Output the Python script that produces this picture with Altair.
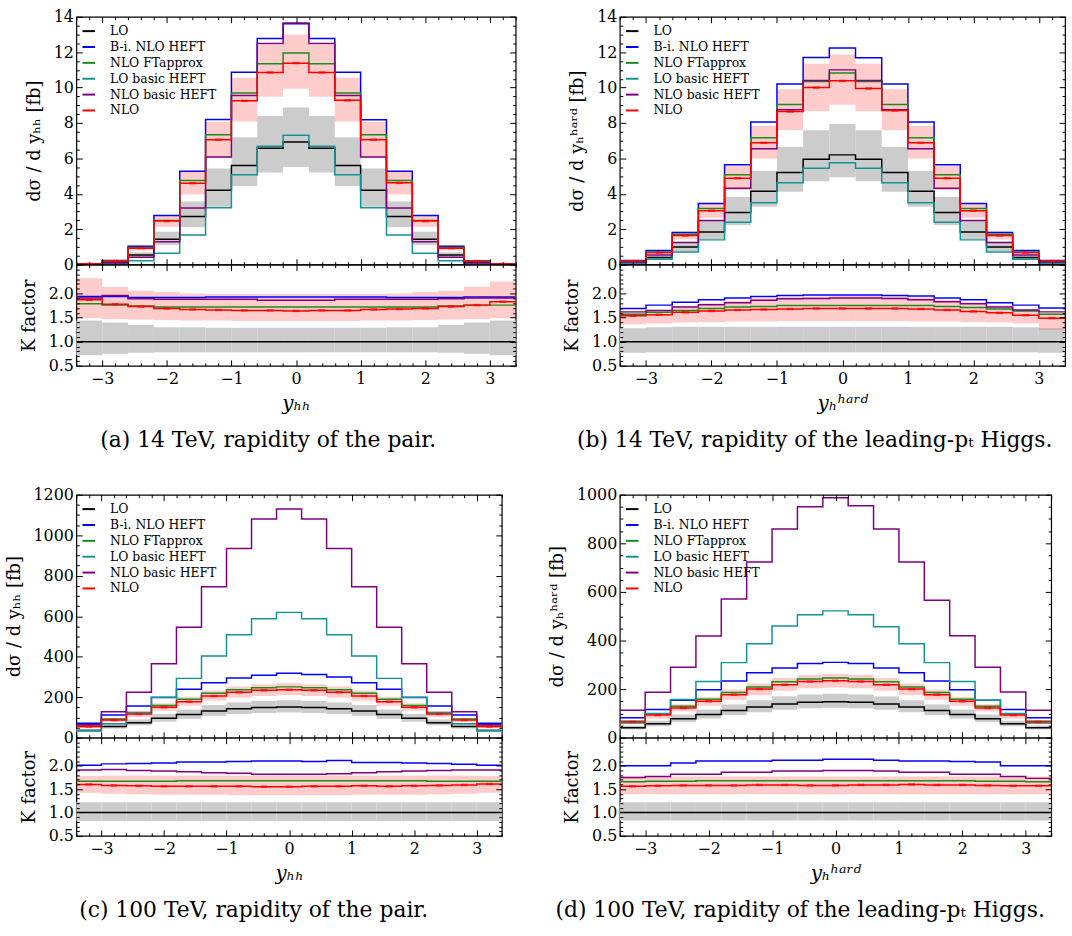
import altair as alt
import pandas as pd

FONT = "DejaVu Serif"

EDGES = [-3.4, -3.0, -2.6, -2.2, -1.8, -1.4, -1.0, -0.6, -0.2, 0.2, 0.6, 1.0, 1.4, 1.8, 2.2, 2.6, 3.0, 3.4]
CENTERS = [-3.2, -2.8, -2.4, -2.0, -1.6, -1.2, -0.8, -0.4, 0.0, 0.4, 0.8, 1.2, 1.6, 2.0, 2.4, 2.8, 3.2]
SERIES = ["LO", "B-i. NLO HEFT", "NLO FTapprox", "LO basic HEFT", "NLO basic HEFT", "NLO"]
COLORS = ["#000000", "#0000ff", "#1a8c1a", "#139393", "#800080", "#ff0000"]
RATIO_SERIES = ["LO", "B-i. NLO HEFT", "NLO FTapprox", "NLO basic HEFT", "NLO"]
RATIO_COLORS = ["#000000", "#0000ff", "#1a8c1a", "#800080", "#ff0000"]

R_ONE = [1.0, 1.0, 1.0, 1.0, 1.0, 1.0, 1.0, 1.0, 1.0, 1.0, 1.0, 1.0, 1.0, 1.0, 1.0, 1.0, 1.0]

# ---------------- (a) 14 TeV, y_hh ----------------
A_LO = [0.02, 0.12, 0.55, 1.43, 2.72, 4.20, 5.60, 6.58, 6.93, 6.58, 5.60, 4.20, 2.72, 1.43, 0.55, 0.12, 0.02]
A_BI = [0.05, 0.24, 1.04, 2.77, 5.28, 8.20, 10.86, 12.77, 13.60, 12.77, 10.86, 8.18, 5.28, 2.77, 1.04, 0.22, 0.05]
A_FT = [0.04, 0.21, 0.97, 2.50, 4.75, 7.33, 9.70, 11.35, 11.95, 11.35, 9.70, 7.33, 4.75, 2.50, 0.97, 0.21, 0.04]
A_LOB = [0.00, 0.03, 0.22, 0.65, 1.67, 3.22, 5.08, 6.69, 7.31, 6.69, 5.08, 3.22, 1.67, 0.65, 0.22, 0.03, 0.00]
A_NLOB = [0.03, 0.10, 0.42, 1.30, 3.20, 6.08, 9.55, 12.49, 13.65, 12.49, 9.55, 6.08, 3.20, 1.30, 0.42, 0.10, 0.03]
A_NLO = [0.04, 0.20, 0.93, 2.46, 4.60, 7.06, 9.25, 10.85, 11.38, 10.85, 9.28, 7.06, 4.62, 2.46, 0.93, 0.20, 0.04]
A_GHI = [0.03, 0.15, 0.70, 1.86, 3.57, 5.43, 7.20, 8.40, 8.87, 8.40, 7.20, 5.43, 3.57, 1.86, 0.70, 0.15, 0.03]
A_GLO = [0.015, 0.09, 0.42, 1.12, 2.12, 3.27, 4.44, 5.20, 5.52, 5.20, 4.44, 3.27, 2.12, 1.12, 0.42, 0.09, 0.015]
A_PHI = [0.05, 0.26, 1.08, 2.80, 5.25, 8.05, 10.56, 12.40, 13.00, 12.40, 10.56, 8.05, 5.25, 2.80, 1.08, 0.26, 0.05]
A_PLO = [0.035, 0.17, 0.80, 2.14, 3.96, 6.02, 8.09, 9.48, 9.94, 9.48, 8.09, 6.02, 3.96, 2.14, 0.80, 0.17, 0.035]
RA_BI = [1.94, 1.94, 1.92, 1.92, 1.92, 1.93, 1.93, 1.93, 1.93, 1.93, 1.93, 1.93, 1.92, 1.92, 1.92, 1.93, 1.93]
RA_FT = [1.79, 1.76, 1.74, 1.72, 1.72, 1.72, 1.72, 1.72, 1.72, 1.72, 1.72, 1.72, 1.72, 1.72, 1.74, 1.76, 1.76]
RA_NLOB = [1.91, 1.96, 1.89, 1.88, 1.88, 1.88, 1.88, 1.86, 1.86, 1.86, 1.88, 1.88, 1.88, 1.88, 1.89, 1.91, 1.91]
RA_NLO = [1.87, 1.78, 1.73, 1.69, 1.67, 1.66, 1.65, 1.65, 1.64, 1.65, 1.65, 1.67, 1.68, 1.69, 1.73, 1.76, 1.83]
RA_GHI = [1.44, 1.40, 1.35, 1.30, 1.30, 1.29, 1.29, 1.29, 1.29, 1.29, 1.29, 1.29, 1.30, 1.30, 1.35, 1.40, 1.44]
RA_GLO = [0.72, 0.75, 0.77, 0.78, 0.78, 0.78, 0.78, 0.78, 0.78, 0.78, 0.78, 0.78, 0.78, 0.78, 0.77, 0.75, 0.72]
RA_PHI = [2.32, 2.14, 2.06, 2.03, 2.00, 1.99, 1.99, 1.99, 1.99, 1.99, 1.99, 1.99, 2.00, 2.03, 2.06, 2.14, 2.25]
RA_PLO = [1.49, 1.47, 1.46, 1.45, 1.44, 1.44, 1.43, 1.43, 1.43, 1.43, 1.43, 1.44, 1.44, 1.45, 1.46, 1.47, 1.49]

# ---------------- (b) 14 TeV, y_h^hard ----------------
B_LO = [0.10, 0.40, 1.00, 1.85, 2.95, 4.15, 5.20, 5.95, 6.20, 5.95, 5.20, 4.15, 2.95, 1.85, 1.00, 0.40, 0.10]
B_BI = [0.24, 0.80, 1.82, 3.45, 5.64, 8.05, 10.20, 11.70, 12.24, 11.68, 10.20, 8.05, 5.64, 3.45, 1.82, 0.80, 0.24]
B_FT = [0.20, 0.72, 1.72, 3.17, 5.08, 7.17, 9.05, 10.35, 10.83, 10.35, 9.05, 7.17, 5.08, 3.17, 1.72, 0.72, 0.20]
B_LOB = [0.08, 0.30, 0.72, 1.40, 2.40, 3.50, 4.62, 5.45, 5.75, 5.45, 4.62, 3.50, 2.40, 1.40, 0.72, 0.30, 0.08]
B_NLOB = [0.15, 0.55, 1.25, 2.50, 4.32, 6.55, 8.75, 10.40, 11.00, 10.40, 8.75, 6.55, 4.32, 2.50, 1.25, 0.55, 0.15]
B_NLO = [0.20, 0.68, 1.65, 3.05, 4.88, 6.88, 8.65, 10.00, 10.38, 9.95, 8.70, 6.88, 4.88, 3.05, 1.65, 0.68, 0.20]
B_GHI = [0.13, 0.52, 1.30, 2.50, 3.82, 5.29, 6.64, 7.59, 7.94, 7.59, 6.64, 5.29, 3.82, 2.50, 1.30, 0.52, 0.13]
B_GLO = [0.08, 0.30, 0.75, 1.45, 2.23, 3.27, 4.12, 4.71, 4.93, 4.71, 4.12, 3.27, 2.23, 1.45, 0.75, 0.30, 0.08]
B_PHI = [0.23, 0.78, 1.88, 3.48, 5.57, 7.83, 9.90, 11.35, 11.87, 11.35, 9.90, 7.83, 5.57, 3.48, 1.88, 0.78, 0.23]
B_PLO = [0.17, 0.58, 1.43, 2.65, 4.20, 5.99, 7.59, 8.66, 9.03, 8.66, 7.59, 5.99, 4.20, 2.65, 1.43, 0.58, 0.17]
RB_BI = [1.69, 1.76, 1.82, 1.87, 1.91, 1.94, 1.96, 1.97, 1.97, 1.97, 1.96, 1.95, 1.91, 1.87, 1.81, 1.76, 1.70]
RB_FT = [1.57, 1.61, 1.65, 1.69, 1.72, 1.73, 1.75, 1.75, 1.75, 1.75, 1.75, 1.75, 1.73, 1.71, 1.68, 1.64, 1.57]
RB_NLOB = [1.62, 1.65, 1.72, 1.77, 1.81, 1.86, 1.89, 1.90, 1.91, 1.91, 1.90, 1.87, 1.83, 1.79, 1.72, 1.66, 1.62]
RB_NLO = [1.54, 1.56, 1.61, 1.64, 1.66, 1.67, 1.68, 1.69, 1.69, 1.69, 1.69, 1.68, 1.66, 1.63, 1.60, 1.55, 1.49]
RB_GHI = [1.28, 1.30, 1.31, 1.31, 1.31, 1.31, 1.31, 1.31, 1.31, 1.31, 1.31, 1.31, 1.31, 1.31, 1.31, 1.30, 1.28]
RB_GLO = [0.77, 0.78, 0.78, 0.78, 0.78, 0.78, 0.78, 0.78, 0.78, 0.78, 0.78, 0.78, 0.78, 0.78, 0.78, 0.78, 0.77]
RB_PHI = [1.62, 1.66, 1.74, 1.80, 1.85, 1.90, 1.93, 1.94, 1.95, 1.95, 1.94, 1.92, 1.87, 1.82, 1.75, 1.67, 1.60]
RB_PLO = [1.36, 1.38, 1.40, 1.41, 1.42, 1.42, 1.43, 1.43, 1.43, 1.43, 1.43, 1.42, 1.42, 1.41, 1.40, 1.38, 1.25]

# ---------------- (c) 100 TeV, y_hh ----------------
C_LO = [35, 55, 74, 96, 114, 132, 143, 149, 152, 149, 143, 132, 114, 96, 74, 55, 35]
C_BI = [71, 112, 157, 198, 239, 271, 295, 308, 318, 312, 300, 271, 239, 198, 157, 112, 71]
C_FT = [58, 92, 123, 159, 190, 219, 237, 247, 251, 247, 237, 219, 190, 159, 123, 92, 58]
C_LOB = [34, 69, 124, 200, 293, 404, 508, 588, 619, 588, 508, 404, 293, 200, 124, 69, 34]
C_NLOB = [64, 128, 225, 365, 545, 745, 935, 1080, 1130, 1080, 935, 745, 545, 365, 225, 128, 64]
C_NLO = [55, 87, 117, 150, 178, 206, 224, 234, 237, 234, 224, 206, 178, 150, 117, 87, 55]
C_GHI = [43, 67, 90, 117, 139, 161, 174, 182, 185, 182, 174, 161, 139, 117, 90, 67, 43]
C_GLO = [29, 45, 61, 79, 93, 108, 117, 122, 125, 122, 117, 108, 93, 79, 61, 45, 29]
C_PHI = [62, 97, 131, 170, 202, 233, 253, 264, 269, 264, 253, 233, 202, 170, 131, 97, 62]
C_PLO = [48, 76, 102, 133, 158, 183, 198, 206, 210, 206, 198, 183, 158, 133, 102, 76, 48]
RC_BI = [2.01, 2.04, 2.05, 2.06, 2.08, 2.08, 2.09, 2.10, 2.10, 2.09, 2.11, 2.07, 2.07, 2.06, 2.05, 2.03, 2.01]
RC_FT = [1.67, 1.67, 1.67, 1.67, 1.68, 1.68, 1.68, 1.68, 1.68, 1.68, 1.68, 1.68, 1.68, 1.68, 1.67, 1.67, 1.67]
RC_NLOB = [1.91, 1.92, 1.90, 1.89, 1.87, 1.85, 1.84, 1.82, 1.82, 1.82, 1.83, 1.85, 1.87, 1.89, 1.90, 1.91, 1.91]
RC_NLO = [1.60, 1.58, 1.57, 1.56, 1.56, 1.56, 1.56, 1.55, 1.55, 1.56, 1.56, 1.57, 1.56, 1.57, 1.58, 1.59, 1.61]
RC_GHI = [1.22, 1.22, 1.22, 1.22, 1.22, 1.22, 1.22, 1.22, 1.22, 1.22, 1.22, 1.22, 1.22, 1.22, 1.22, 1.22, 1.22]
RC_GLO = [0.82, 0.82, 0.82, 0.82, 0.82, 0.82, 0.82, 0.82, 0.82, 0.82, 0.82, 0.82, 0.82, 0.82, 0.82, 0.82, 0.82]
RC_PHI = [1.78, 1.79, 1.79, 1.79, 1.79, 1.79, 1.79, 1.79, 1.79, 1.79, 1.79, 1.79, 1.79, 1.79, 1.79, 1.79, 1.78]
RC_PLO = [1.42, 1.40, 1.39, 1.38, 1.38, 1.38, 1.37, 1.37, 1.37, 1.37, 1.37, 1.38, 1.38, 1.38, 1.39, 1.40, 1.42]

# ---------------- (d) 100 TeV, y_h^hard ----------------
D_LO = [41, 57, 78, 95, 112, 126, 139, 146, 148, 146, 139, 126, 112, 95, 78, 57, 41]
D_BI = [82, 116, 154, 197, 233, 267, 287, 305, 310, 305, 287, 267, 233, 197, 154, 116, 82]
D_FT = [68, 99, 129, 158, 186, 209, 230, 242, 246, 242, 230, 209, 186, 158, 129, 99, 68]
D_LOB = [60, 100, 157, 231, 309, 387, 460, 506, 522, 506, 457, 387, 309, 231, 154, 100, 60]
D_NLOB = [113, 187, 290, 419, 571, 723, 859, 951, 988, 955, 859, 723, 566, 420, 290, 188, 113]
D_NLO = [65, 93, 122, 150, 177, 200, 218, 231, 234, 231, 218, 200, 177, 150, 122, 93, 65]
D_GHI = [50, 70, 95, 116, 137, 154, 170, 178, 181, 178, 170, 154, 137, 116, 95, 70, 50]
D_GLO = [34, 47, 65, 79, 93, 105, 115, 121, 123, 121, 115, 105, 93, 79, 65, 47, 34]
D_PHI = [73, 101, 138, 168, 198, 223, 246, 258, 262, 258, 246, 223, 198, 168, 138, 101, 73]
D_PLO = [57, 79, 108, 132, 156, 175, 193, 203, 206, 203, 193, 175, 156, 132, 108, 79, 57]
RD_BI = [2.00, 2.00, 2.06, 2.10, 2.10, 2.10, 2.12, 2.12, 2.14, 2.14, 2.12, 2.10, 2.10, 2.09, 2.08, 2.00, 2.00]
RD_FT = [1.66, 1.67, 1.67, 1.68, 1.68, 1.68, 1.68, 1.68, 1.68, 1.68, 1.68, 1.68, 1.68, 1.68, 1.67, 1.67, 1.66]
RD_NLOB = [1.75, 1.77, 1.82, 1.82, 1.86, 1.86, 1.89, 1.89, 1.90, 1.90, 1.89, 1.86, 1.86, 1.82, 1.82, 1.77, 1.73]
RD_NLO = [1.56, 1.57, 1.58, 1.58, 1.58, 1.59, 1.59, 1.58, 1.58, 1.59, 1.59, 1.60, 1.59, 1.59, 1.58, 1.57, 1.57]
RD_GHI = [1.22, 1.22, 1.22, 1.22, 1.22, 1.22, 1.22, 1.22, 1.22, 1.22, 1.22, 1.22, 1.22, 1.22, 1.22, 1.22, 1.22]
RD_GLO = [0.83, 0.83, 0.83, 0.83, 0.83, 0.83, 0.83, 0.83, 0.83, 0.83, 0.83, 0.83, 0.83, 0.83, 0.83, 0.83, 0.83]
RD_PHI = [1.77, 1.77, 1.77, 1.77, 1.77, 1.77, 1.77, 1.77, 1.77, 1.77, 1.77, 1.77, 1.77, 1.77, 1.77, 1.77, 1.77]
RD_PLO = [1.39, 1.39, 1.39, 1.39, 1.39, 1.39, 1.39, 1.39, 1.39, 1.39, 1.39, 1.39, 1.39, 1.39, 1.39, 1.39, 1.39]

YT_HH = "dσ / d yₕₕ [fb]"
YT_HARD = "dσ / d yₕʰᵃʳᵈ [fb]"

PANELS = {
    "a": dict(main=[A_LO, A_BI, A_FT, A_LOB, A_NLOB, A_NLO], grey=(A_GLO, A_GHI), pink=(A_PLO, A_PHI),
              ratio=[R_ONE, RA_BI, RA_FT, RA_NLOB, RA_NLO], rgrey=(RA_GLO, RA_GHI), rpink=(RA_PLO, RA_PHI),
              ymax=14, ystep=2, yminor=0.5, ytitle=YT_HH, xtitle="yₕₕ",
              caption="(a)  14 TeV, rapidity of the pair.", width=443, h1=250, h2=102),
    "b": dict(main=[B_LO, B_BI, B_FT, B_LOB, B_NLOB, B_NLO], grey=(B_GLO, B_GHI), pink=(B_PLO, B_PHI),
              ratio=[R_ONE, RB_BI, RB_FT, RB_NLOB, RB_NLO], rgrey=(RB_GLO, RB_GHI), rpink=(RB_PLO, RB_PHI),
              ymax=14, ystep=2, yminor=0.5, ytitle=YT_HARD, xtitle="yₕʰᵃʳᵈ",
              caption="(b)  14 TeV, rapidity of the leading-pₜ Higgs.", width=449, h1=250, h2=102),
    "c": dict(main=[C_LO, C_BI, C_FT, C_LOB, C_NLOB, C_NLO], grey=(C_GLO, C_GHI), pink=(C_PLO, C_PHI),
              ratio=[R_ONE, RC_BI, RC_FT, RC_NLOB, RC_NLO], rgrey=(RC_GLO, RC_GHI), rpink=(RC_PLO, RC_PHI),
              ymax=1200, ystep=200, yminor=50, ytitle=YT_HH, xtitle="yₕₕ",
              caption="(c)  100 TeV, rapidity of the pair.", width=429, h1=245, h2=99),
    "d": dict(main=[D_LO, D_BI, D_FT, D_LOB, D_NLOB, D_NLO], grey=(D_GLO, D_GHI), pink=(D_PLO, D_PHI),
              ratio=[R_ONE, RD_BI, RD_FT, RD_NLOB, RD_NLO], rgrey=(RD_GLO, RD_GHI), rpink=(RD_PLO, RD_PHI),
              ymax=1000, ystep=200, yminor=50, ytitle=YT_HARD, xtitle="yₕʰᵃʳᵈ",
              caption="(d)  100 TeV, rapidity of the leading-pₜ Higgs.", width=435, h1=245, h2=99),
}


def trange(lo, hi, step):
    n = int(round((hi - lo) / step))
    return [round(lo + k * step, 4) for k in range(n + 1)]


def without(a, b):
    return [v for v in a if all(abs(v - w) > 1e-9 for w in b)]


X_MAJOR = [-3, -2, -1, 0, 1, 2, 3]
X_MINOR = without(trange(-3.4, 3.4, 0.2), X_MAJOR)
R_MAJOR = [0.5, 1.0, 1.5, 2.0]
R_MINOR = without(trange(0.5, 2.6, 0.1), R_MAJOR)


def axis(orient, values, size, labels=False, fmt=None, title=None, italic=False, title_pad=10,
         label_pad=3, title_size=18):
    kw = dict(orient=orient, values=values, tickSize=size, offset=-size, domain=False, grid=False,
              ticks=True, tickColor="black", tickWidth=1, labels=labels, zindex=2)
    if labels:
        kw.update(labelFont=FONT, labelFontSize=16, labelColor="black", labelPadding=label_pad,
                  labelFlush=False, labelOverlap=False, format=fmt)
    if title:
        kw.update(title=title, titleFont=FONT, titleFontSize=title_size, titleFontWeight="normal",
                  titleColor="black", titlePadding=title_pad)
        if italic:
            kw["titleFontStyle"] = "italic"
    else:
        kw["title"] = None
    return alt.Axis(**kw)


def step_df(names, arrays):
    rows = []
    for name, arr in zip(names, arrays):
        for i, e in enumerate(EDGES):
            rows.append({"x": e, "y": arr[min(i, len(arr) - 1)], "s": name})
    return pd.DataFrame(rows)


def layered(bands_df, lines_df, err_df, ydom, ymaj, ymin, yfmt, ytitle, names, colors, legend,
            xlabels, xtitle, w, h):
    xs = alt.Scale(domain=[-3.4, 3.4], nice=False, zero=False)
    ys = alt.Scale(domain=ydom, nice=False, zero=False)
    grey = alt.Chart(bands_df).mark_rect(color="#cccccc", strokeWidth=0).encode(
        x=alt.X("x0:Q", scale=xs, axis=axis("bottom", X_MAJOR, 6, labels=xlabels, fmt="d",
                                             title=xtitle, italic=True, title_pad=7, label_pad=5,
                                             title_size=20)),
        x2=alt.X2("x1"),
        y=alt.Y("glo:Q", scale=ys, axis=axis("left", ymaj, 6, labels=True, fmt=yfmt, title=ytitle)),
        y2=alt.Y2("ghi"),
    )
    pink = alt.Chart(bands_df).mark_rect(color="#ff0000", opacity=0.2, strokeWidth=0).encode(
        x=alt.X("x0:Q", scale=xs, axis=axis("bottom", X_MINOR, 3)),
        x2=alt.X2("x1"),
        y=alt.Y("plo:Q", scale=ys, axis=axis("left", ymin, 3)),
        y2=alt.Y2("phi"),
    )
    lines = alt.Chart(lines_df).mark_line(interpolate="step-after", strokeWidth=1.5, clip=True).encode(
        x=alt.X("x:Q", scale=xs, axis=axis("top", X_MAJOR, 6)),
        y=alt.Y("y:Q", scale=ys, axis=axis("right", ymaj, 6)),
        color=alt.Color("s:N", scale=alt.Scale(domain=names, range=colors), legend=legend),
    )
    err = alt.Chart(err_df).mark_tick(orient="horizontal", color="#ff0000", thickness=2.5, size=7).encode(
        x=alt.X("xc:Q", scale=xs, axis=axis("top", X_MINOR, 3)),
        y=alt.Y("v:Q", scale=ys, axis=axis("right", ymin, 3)),
    )
    return alt.layer(grey, pink, lines, err).resolve_scale(
        x="independent", y="independent").resolve_axis(
        x="independent", y="independent").properties(width=w, height=h)


LEGEND = alt.Legend(orient="none", legendX=5, legendY=7, title=None, symbolType="stroke",
                    symbolSize=160, symbolStrokeWidth=2, labelFont=FONT, labelFontSize=12.5,
                    labelColor="black", rowPadding=2, labelOffset=14, padding=0)


def panel(p):
    bands = pd.DataFrame({"x0": EDGES[:-1], "x1": EDGES[1:],
                          "glo": p["grey"][0], "ghi": p["grey"][1],
                          "plo": p["pink"][0], "phi": p["pink"][1]})
    rbands = pd.DataFrame({"x0": EDGES[:-1], "x1": EDGES[1:],
                           "glo": p["rgrey"][0], "ghi": p["rgrey"][1],
                           "plo": p["rpink"][0], "phi": p["rpink"][1]})
    lines = step_df(SERIES, p["main"])
    rlines = step_df(RATIO_SERIES, p["ratio"])
    err = pd.DataFrame({"xc": CENTERS, "v": p["main"][5]})
    rerr = pd.DataFrame({"xc": CENTERS, "v": p["ratio"][4]})
    ymaj = trange(0, p["ymax"], p["ystep"])
    ymin = without(trange(0, p["ymax"], p["yminor"]), ymaj)
    main = layered(bands, lines, err, [0, p["ymax"]], ymaj, ymin, "d", p["ytitle"], SERIES, COLORS,
                   LEGEND, False, None, p["width"], p["h1"])
    ratio = layered(rbands, rlines, rerr, [0.5, 2.6], R_MAJOR, R_MINOR, ".1f", "K factor",
                    RATIO_SERIES, RATIO_COLORS, None, True, p["xtitle"], p["width"], p["h2"])
    return alt.vconcat(main, ratio, spacing=0, bounds="flush",
                       title=alt.TitleParams(p["caption"], orient="bottom", anchor="middle", font=FONT,
                                             fontSize=22, fontWeight="normal", color="black",
                                             offset=16)).resolve_scale(color="independent")


row1 = alt.hconcat(panel(PANELS["a"]), panel(PANELS["b"]), spacing=45).resolve_scale(color="independent")
row2 = alt.hconcat(panel(PANELS["c"]), panel(PANELS["d"]), spacing=44).resolve_scale(color="independent")

chart = alt.vconcat(row1, row2, spacing=35).resolve_scale(color="independent").properties(
    padding={"left": 4, "right": 5, "top": 4, "bottom": 2},
    background="white",
).configure_view(stroke="black", strokeWidth=1.2)

chart.save("out.html", embed_options={"renderer": "svg", "actions": False})
